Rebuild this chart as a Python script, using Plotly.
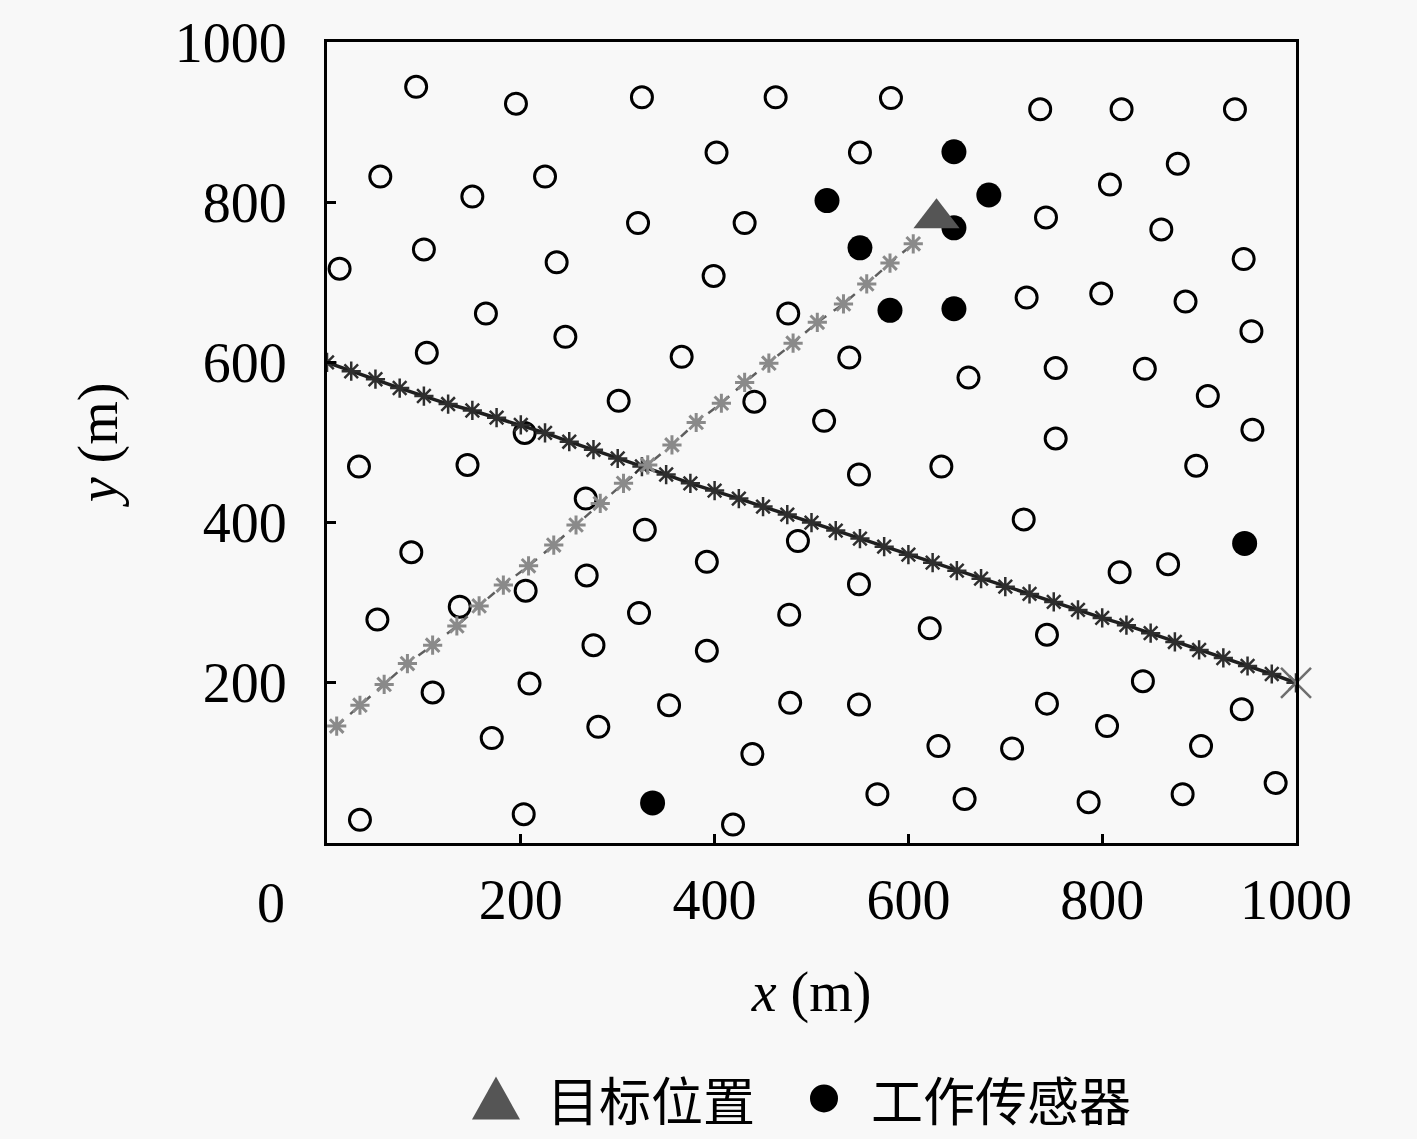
import plotly.graph_objects as go

# sensor positions (m)
idle_x = [92, 195, 325, 463, 402, 55, 225, 150, 321, 431, 100, 13, 237, 399, 164, 246, 476,
          103, 366, 301, 441, 204, 513,
          582, 736, 820, 937, 550, 878, 808, 742, 861, 946, 722, 799, 886, 954, 539, 662,
          752, 844, 909, 752, 955,
          33, 145, 267, 328, 486, 87, 392, 268, 205, 137, 52, 322, 477, 275, 392, 209, 109,
          353, 478, 280, 170, 439, 34, 203, 419,
          549, 634, 897, 719, 868, 818, 549, 622, 743, 842, 549, 743, 944, 805, 631, 707,
          902, 979, 568, 658, 786, 883]
idle_y = [944, 923, 931, 931, 862, 832, 832, 807, 774, 774, 741, 717, 725, 708, 661, 632, 661,
          612, 607, 552, 551, 512, 527,
          930, 916, 916, 916, 862, 848, 822, 781, 766, 729, 681, 686, 676, 639, 606, 581,
          593, 592, 558, 505, 516,
          470, 472, 430, 391, 377, 363, 351, 334, 315, 295, 279, 287, 285, 247, 240, 199, 188,
          172, 175, 145, 131, 111, 29, 36, 23,
          460, 470, 471, 404, 348, 338, 323, 268, 260, 202, 173, 174, 167, 146, 121, 118,
          121, 75, 61, 55, 51, 61]

work_x = [516, 647, 683, 647, 550, 581, 647, 947, 336]
work_y = [802, 863, 809, 768, 743, 665, 667, 374, 50]

# target track (grey) and second track (black)
track1_x = [10, 34, 59, 83, 109, 134, 157, 182, 208, 234, 257, 282, 306, 331, 356, 381, 407,
            431, 456, 481, 506, 533, 557, 581, 605]
track1_y = [146, 172, 198, 224, 247, 271, 296, 322, 346, 372, 397, 424, 449, 472, 497, 525, 549,
            575, 599, 624, 650, 673, 698, 724, 748]

track2_x = [0, 25, 50, 75, 100, 125, 150, 175, 200, 225, 250, 275, 300, 325, 350, 375, 400,
            425, 450, 475, 500, 525, 550, 575, 600, 625, 650, 675, 700, 725, 750, 775, 800,
            825, 850, 875, 900, 925, 950, 975, 1000]
track2_y = [600, 589, 579, 568, 558, 548, 540, 531, 522, 512, 501, 491, 480, 470, 460, 449, 440,
            430, 420, 410, 400, 390, 380, 370, 360, 350, 340, 330, 320, 311, 301, 291, 281,
            272, 262, 251, 241, 231, 221, 211, 200]

target_x = [629]
target_y = [780]
end_x = [1000]
end_y = [200]

fig = go.Figure()
fig.add_trace(go.Scatter(x=idle_x, y=idle_y, mode='markers', showlegend=False,
                         marker=dict(symbol='circle-open', size=21, color='black',
                                     line=dict(width=3, color='black'))))
fig.add_trace(go.Scatter(x=work_x, y=work_y, mode='markers', name='工作传感器',
                         showlegend=False,
                         marker=dict(symbol='circle', size=25, color='black')))
fig.add_trace(go.Scatter(x=track2_x, y=track2_y, mode='lines+markers', showlegend=False,
                         line=dict(color='#1e1e1e', width=3.5),
                         marker=dict(symbol='asterisk-open', size=16, color='#2e2e2e',
                                     line=dict(width=2.5, color='#2e2e2e'))))
fig.add_trace(go.Scatter(x=track1_x, y=track1_y, mode='lines+markers', showlegend=False,
                         line=dict(color='#5e5e5e', width=2.5, dash='dash'),
                         marker=dict(symbol='asterisk-open', size=16, color='#8a8a8a',
                                     line=dict(width=3, color='#8a8a8a'))))
fig.add_trace(go.Scatter(x=target_x, y=target_y, mode='markers', name='目标位置',
                         showlegend=False,
                         marker=dict(symbol='triangle-up', size=40, color='#555555')))
fig.add_trace(go.Scatter(x=end_x, y=end_y, mode='markers', showlegend=False, cliponaxis=False,
                         marker=dict(symbol='x-thin-open', size=30, color='#6e6e6e',
                                     line=dict(width=2.5, color='#6e6e6e'))))

# plot area in pixels
L, R, T, B = 327, 1296, 37, 843
W, H = 1417, 1139


def px(xp):
    return (xp - L) / (R - L)


def py(yp):
    return (B - yp) / (B - T)


serif = 'Liberation Serif'
axis_common = dict(range=[0, 1000], showgrid=False, zeroline=False,
                   showline=True, linewidth=3, linecolor='black', mirror=True,
                   ticks='inside', ticklen=9, tickwidth=2.5, tickcolor='black',
                   tickvals=[200, 400, 600, 800, 1000],
                   tickfont=dict(family=serif, size=56, color='black'))

fig.update_layout(
    width=W, height=H,
    margin=dict(l=L, r=W - R, t=T, b=H - B),
    paper_bgcolor='#f8f8f8', plot_bgcolor='#f8f8f8',
    xaxis=dict(**axis_common, ticklabelstandoff=6,
               title=dict(text='<i>x</i> (m)', standoff=42,
                          font=dict(family=serif, size=56, color='black'))),
    yaxis=dict(**axis_common, ticklabelstandoff=26,
               title=dict(text='<i>y</i> (m)', standoff=40,
                          font=dict(family=serif, size=56, color='black'))),
)

# shared origin label
fig.add_annotation(x=px(271), y=py(903), xref='paper', yref='paper', text='0',
                   showarrow=False, xanchor='center', yanchor='middle',
                   font=dict(family=serif, size=56, color='black'))

# legend drawn below the plot
cjk = 'Noto Sans CJK SC'
leg_y = py(1100)
fig.add_shape(type='path', xref='paper', yref='paper', xsizemode='pixel', ysizemode='pixel',
              xanchor=px(496), yanchor=leg_y, path='M -24,-21 L 24,-21 L 0,22 Z',
              fillcolor='#555555', line=dict(width=0))
fig.add_shape(type='circle', xref='paper', yref='paper', xsizemode='pixel', ysizemode='pixel',
              xanchor=px(824), yanchor=leg_y, x0=-14, x1=14, y0=-14, y1=14,
              fillcolor='black', line=dict(width=0))
fig.add_annotation(x=px(651), y=leg_y, xref='paper', yref='paper', text='目标位置',
                   showarrow=False, xanchor='center', yanchor='middle', borderpad=0,
                   font=dict(family=cjk, size=52, color='black'))
fig.add_annotation(x=px(1001), y=leg_y, xref='paper', yref='paper', text='工作传感器',
                   showarrow=False, xanchor='center', yanchor='middle', borderpad=0,
                   font=dict(family=cjk, size=52, color='black'))

fig.write_html("out.html", config={'displayModeBar': False},
               post_script="document.body.style.margin='0';")
